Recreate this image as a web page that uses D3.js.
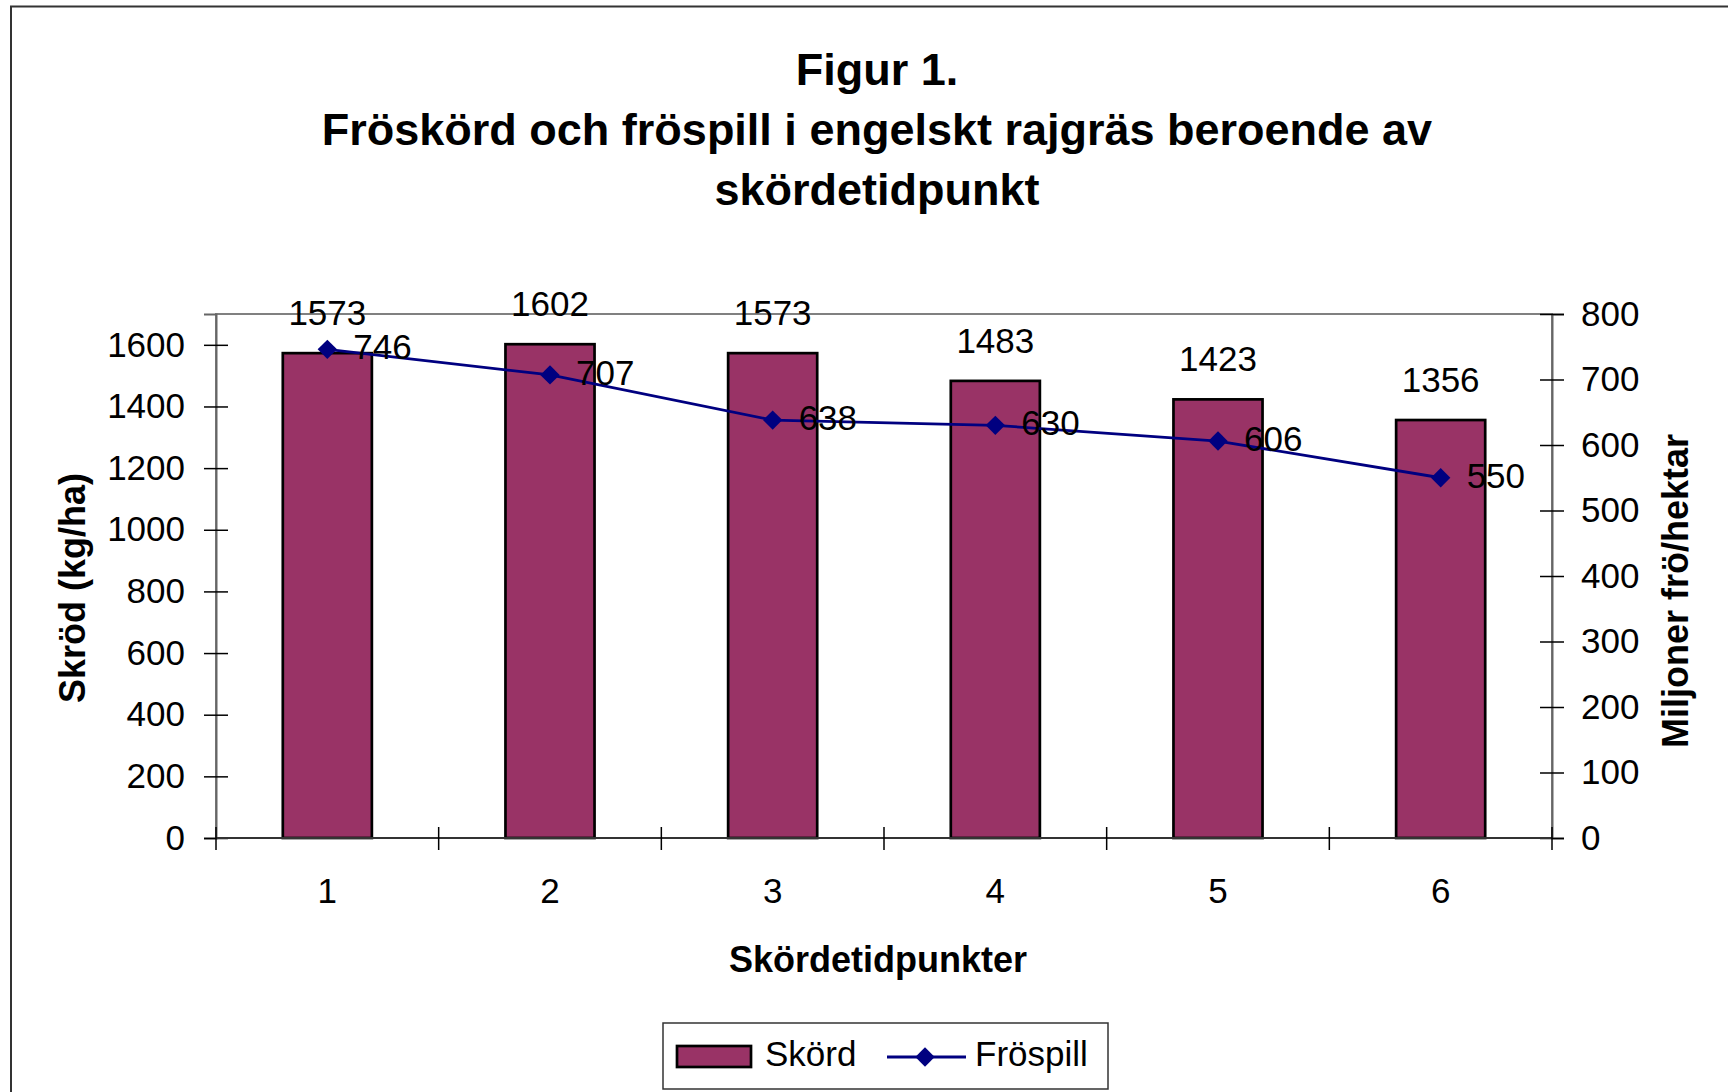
<!DOCTYPE html>
<html lang="sv">
<head>
<meta charset="utf-8">
<script src="https://d3js.org/d3.v7.min.js"></script>
<style>
  body { margin: 0; background: #fff; }
  text { font-family: "Liberation Sans", Arial, sans-serif; fill: #000; }
</style>
</head>
<body>
<div id="chart"></div>
<script>
// data
var categories = ["1", "2", "3", "4", "5", "6"];
var skord = [1573, 1602, 1573, 1483, 1423, 1356];      // kg/ha (bars, left axis)
var frospill = [746, 707, 638, 630, 606, 550];         // miljoner frö/hektar (line, right axis)
var leftTicks = [0, 200, 400, 600, 800, 1000, 1200, 1400, 1600];
var rightTicks = [0, 100, 200, 300, 400, 500, 600, 700, 800];
var titleLines = ["Figur 1.", "Fröskörd och fröspill i engelskt rajgräs beroende av", "skördetidpunkt"];

var W = 1728, H = 1092;
var plot = {left: 216, right: 1552, top: 314, bottom: 838};

var svg = d3.select("#chart").append("svg")
  .attr("width", W)
  .attr("height", H);

// outer frame
svg.append("path")
  .attr("d", "M11," + H + "V6.5H" + W)
  .attr("fill", "none")
  .attr("stroke", "#333")
  .attr("stroke-width", 2);

// title
svg.append("g").selectAll("text")
  .data(titleLines)
  .enter().append("text")
    .attr("x", 877)
    .attr("y", function(d, i) { return 85 + i * 60; })
    .attr("text-anchor", "middle")
    .style("font-size", "45px")
    .style("font-weight", "bold")
    .text(function(d) { return d; });

// scales
var x = d3.scaleBand()
  .domain(categories)
  .range([plot.left, plot.right])
  .padding(0);

var y = d3.scaleLinear()
  .domain([0, 1700])
  .range([plot.bottom, plot.top]);

var y2 = d3.scaleLinear()
  .domain([0, 800])
  .range([plot.bottom, plot.top]);

var barW = x.bandwidth() * 0.4;

// plot area border (gray)
svg.append("rect")
  .attr("x", plot.left)
  .attr("y", plot.top)
  .attr("width", plot.right - plot.left)
  .attr("height", plot.bottom - plot.top)
  .attr("fill", "none")
  .attr("stroke", "#808080")
  .attr("stroke-width", 2);

// bars
svg.append("g").selectAll("rect")
  .data(skord)
  .enter().append("rect")
    .attr("x", function(d, i) { return x(categories[i]) + (x.bandwidth() - barW) / 2; })
    .attr("y", function(d) { return y(d); })
    .attr("width", barW)
    .attr("height", function(d) { return y(0) - y(d); })
    .attr("fill", "#993366")
    .attr("stroke", "#000")
    .attr("stroke-width", 2.7);

// left axis
var gLeft = svg.append("g")
  .attr("transform", "translate(" + plot.left + ",0)")
  .call(d3.axisLeft(y).tickValues(leftTicks).tickFormat(d3.format("d")).tickSize(12).tickPadding(19));
gLeft.select(".domain").attr("stroke", "#666").attr("stroke-width", 2);
gLeft.selectAll(".tick line").attr("x1", 12).attr("stroke", "#000").attr("stroke-width", 1.5);
gLeft.selectAll(".tick text")
  .style("font-size", "35px")
  .style("font-family", "'Liberation Sans', Arial, sans-serif");

// right axis
var gRight = svg.append("g")
  .attr("transform", "translate(" + plot.right + ",0)")
  .call(d3.axisRight(y2).tickValues(rightTicks).tickFormat(d3.format("d")).tickSize(12).tickPadding(17));
gRight.select(".domain").attr("stroke", "#666").attr("stroke-width", 2);
gRight.selectAll(".tick line").attr("x1", -12).attr("stroke", "#000").attr("stroke-width", 1.5);
gRight.selectAll(".tick text")
  .style("font-size", "35px")
  .style("font-family", "'Liberation Sans', Arial, sans-serif");

// bottom axis: ticks on category boundaries, labels centered below
var gBottom = svg.append("g");
gBottom.append("line")
  .attr("x1", plot.left).attr("x2", plot.right)
  .attr("y1", y(0)).attr("y2", y(0))
  .attr("stroke", "#333").attr("stroke-width", 2);
var bounds = categories.map(function(c) { return x(c); }).concat([plot.right]);
gBottom.selectAll("line.tk")
  .data(bounds)
  .enter().append("line")
    .attr("class", "tk")
    .attr("x1", function(d) { return d; }).attr("x2", function(d) { return d; })
    .attr("y1", y(0) - 11).attr("y2", y(0) + 12)
    .attr("stroke", "#000").attr("stroke-width", 1.5);
gBottom.selectAll("text")
  .data(categories)
  .enter().append("text")
    .attr("x", function(d) { return x(d) + x.bandwidth() / 2; })
    .attr("y", 903)
    .attr("text-anchor", "middle")
    .style("font-size", "35px")
    .text(function(d) { return d; });

// bar value labels
svg.append("g").selectAll("text")
  .data(skord)
  .enter().append("text")
    .attr("x", function(d, i) { return x(categories[i]) + x.bandwidth() / 2; })
    .attr("y", function(d) { return y(d) - 28; })
    .attr("text-anchor", "middle")
    .style("font-size", "35px")
    .text(function(d) { return d; });

// line series
var line = d3.line()
  .x(function(d, i) { return x(categories[i]) + x.bandwidth() / 2; })
  .y(function(d) { return y2(d); });

svg.append("path")
  .datum(frospill)
  .attr("d", line)
  .attr("fill", "none")
  .attr("stroke", "#000080")
  .attr("stroke-width", 2.8);

var diamond = d3.symbol().type(d3.symbolDiamond2).size(240);

svg.append("g").selectAll("path")
  .data(frospill)
  .enter().append("path")
    .attr("d", diamond)
    .attr("transform", function(d, i) {
      return "translate(" + (x(categories[i]) + x.bandwidth() / 2) + "," + y2(d) + ")";
    })
    .attr("fill", "#000080");

svg.append("g").selectAll("text")
  .data(frospill)
  .enter().append("text")
    .attr("x", function(d, i) { return x(categories[i]) + x.bandwidth() / 2 + 26; })
    .attr("y", function(d) { return y2(d) + 10; })
    .style("font-size", "35px")
    .text(function(d) { return d; });

// axis titles
svg.append("text")
  .attr("transform", "translate(72,588) rotate(-90)")
  .attr("text-anchor", "middle")
  .attr("dominant-baseline", "central")
  .style("font-size", "36px")
  .style("font-weight", "bold")
  .text("Skröd (kg/ha)");

svg.append("text")
  .attr("transform", "translate(1675,591) rotate(-90)")
  .attr("text-anchor", "middle")
  .attr("dominant-baseline", "central")
  .style("font-size", "36px")
  .style("font-weight", "bold")
  .text("Miljoner frö/hektar");

svg.append("text")
  .attr("x", 878)
  .attr("y", 972)
  .attr("text-anchor", "middle")
  .style("font-size", "36px")
  .style("font-weight", "bold")
  .text("Skördetidpunkter");

// legend
var lg = svg.append("g");
lg.append("rect")
  .attr("x", 663).attr("y", 1023)
  .attr("width", 445).attr("height", 66)
  .attr("fill", "#fff")
  .attr("stroke", "#333")
  .attr("stroke-width", 1.5);
lg.append("rect")
  .attr("x", 677).attr("y", 1046)
  .attr("width", 74).attr("height", 21)
  .attr("fill", "#993366")
  .attr("stroke", "#000")
  .attr("stroke-width", 2.7);
lg.append("text")
  .attr("x", 765).attr("y", 1066)
  .style("font-size", "35px")
  .text("Skörd");
lg.append("line")
  .attr("x1", 887).attr("x2", 966)
  .attr("y1", 1057).attr("y2", 1057)
  .attr("stroke", "#000080")
  .attr("stroke-width", 2.8);
lg.append("path")
  .attr("d", diamond)
  .attr("transform", "translate(925,1057)")
  .attr("fill", "#000080");
lg.append("text")
  .attr("x", 975).attr("y", 1066)
  .style("font-size", "35px")
  .text("Fröspill");
</script>
</body>
</html>
